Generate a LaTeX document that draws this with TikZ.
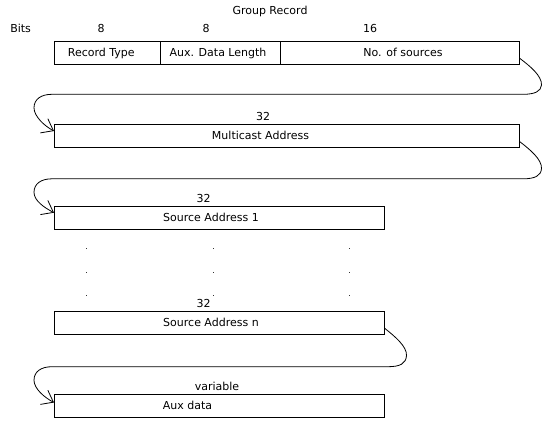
\documentclass[tikz,border=0pt]{standalone}
\usepackage{fontspec}
\setmainfont{DejaVu Sans}
\usetikzlibrary{calc,arrows.meta}
\begin{document}
\begin{tikzpicture}[x=1pt,y=-1pt,
  every node/.style={font=\fontsize{11}{13}\selectfont},
  field/.style={draw=black,line width=0.8pt,rectangle,inner sep=0pt,minimum height=23pt,anchor=north west},
  lbl/.style={inner sep=0pt,anchor=base},
  conn/.style={draw=black,line width=0.8pt,line join=round,-{Straight Barb[length=10.5pt,width=16pt,line width=0.8pt]}},
  dotmark/.style={fill=black!80}]
\useasboundingbox (0,0) rectangle (548,425);
\fill[white] (0,0) rectangle (548,425);
% titles
\node[lbl] (title) at (270,15) {Group Record};
\node[lbl] (bits) at (20.6,33) {Bits};
\node[lbl] (b1) at (101,33) {8};
\node[lbl] (b2) at (206,33) {8};
\node[lbl] (b3) at (370,33) {16};
% row 1
\node[field,minimum width=106pt] (rt) at (54,41) {};
\node[field,minimum width=120pt] (adl) at (160,41) {};
\node[field,minimum width=239pt] (nos) at (280,41) {};
\node[lbl] (trt) at (101.3,56.7) {Record Type};
\node[lbl] (tadl) at (218,56.7) {Aux. Data Length};
\node[lbl] (tnos) at (403,56.7) {No. of sources};
% row 2
\node[lbl] (b4) at (263,120.5) {32};
\node[field,minimum width=465pt] (mc) at (54,124.3) {};
\node[lbl] (tmc) at (260.5,139.5) {Multicast Address};
% row 3
\node[lbl] (b5) at (203.5,202) {32};
\node[field,minimum width=330pt] (sa1) at (54,206) {};
\node[lbl] (tsa1) at (211,221.5) {Source Address 1};
% dots
\foreach \yy in {248,272,295}{
  \foreach \xx in {86,213,349}{
    \fill[dotmark] (\xx-0.45,\yy-0.45) rectangle (\xx+0.45,\yy+0.45);
  }
}
% row 4
\node[lbl] (b6) at (203.5,307) {32};
\node[field,minimum width=330pt] (san) at (54,311) {};
\node[lbl] (tsan) at (211,326.5) {Source Address n};
% row 5
\node[lbl] (b7) at (217,390) {variable};
\node[field,minimum width=330pt] (aux) at (54,394.3) {};
\node[lbl,anchor=base west] (taux) at (162.7,409.5) {Aux data};
% connectors
\draw[conn] ($(nos.east)+(0,5.5)$) .. controls (530,66) and (542,76) .. (541.5,85)
  .. controls (541,91.3) and (535,94.3) .. (523,94.3) -- (52,94.3)
  .. controls (41,94.3) and (34,99.3) .. (34,107.8)
  .. controls (34,116.3) and (44.5,126) .. ($(mc.north west)+(0,6.7)$);
\draw[conn] ($(mc.east)+(0,5.5)$) .. controls (530,149.5) and (542,159.5) .. (541.5,168.5)
  .. controls (541,175.8) and (535,178.8) .. (523,178.8) -- (52,178.8)
  .. controls (41,178.8) and (34,183.8) .. (34,192.3)
  .. controls (34,200.8) and (44.5,207.7) .. ($(sa1.north west)+(0,6.7)$);
\draw[conn] ($(san.east)+(0,5.5)$) .. controls (395,336.5) and (407,346.5) .. (406.5,355.5)
  .. controls (406,363.7) and (400,366.7) .. (388,366.7) -- (52,366.7)
  .. controls (41,366.7) and (34,371.7) .. (34,380.2)
  .. controls (34,388.7) and (44.5,397.5) .. ($(aux.north west)+(0,8.2)$);
\end{tikzpicture}
\end{document}
